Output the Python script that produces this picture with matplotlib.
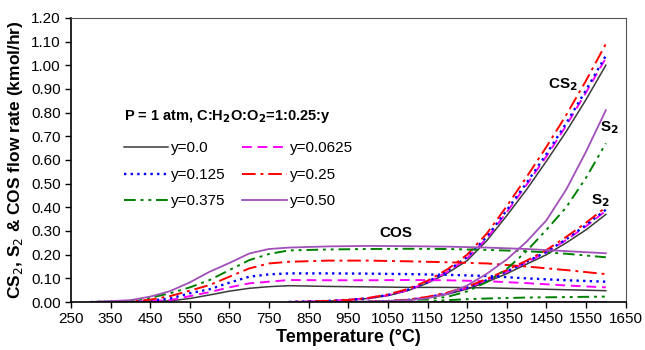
import matplotlib
matplotlib.use('Agg')
import matplotlib.pyplot as plt

plt.rcParams['font.family'] = ['Liberation Sans', 'DejaVu Sans']

# --- data ---
y_labels = ['y=0.0', 'y=0.0625', 'y=0.125', 'y=0.25', 'y=0.375', 'y=0.50']

T_cos = [300, 400, 450, 500, 550, 600, 650, 700, 750, 800, 900, 1000, 1100, 1200, 1300, 1400, 1500, 1600]
cos_y000 = [0, 0.001, 0.003, 0.005, 0.015, 0.030, 0.046, 0.058, 0.065, 0.069, 0.066, 0.064, 0.062, 0.062, 0.060, 0.056, 0.052, 0.048]
cos_y0625 = [0, 0.001, 0.004, 0.008, 0.025, 0.042, 0.062, 0.079, 0.086, 0.093, 0.092, 0.092, 0.093, 0.092, 0.088, 0.080, 0.070, 0.062]
cos_y125 = [0, 0.002, 0.006, 0.015, 0.037, 0.054, 0.082, 0.107, 0.117, 0.121, 0.121, 0.120, 0.118, 0.115, 0.110, 0.100, 0.092, 0.086]
cos_y25 = [0, 0.003, 0.010, 0.025, 0.048, 0.072, 0.107, 0.142, 0.163, 0.170, 0.175, 0.175, 0.172, 0.168, 0.163, 0.150, 0.135, 0.118]
cos_y375 = [0, 0.005, 0.018, 0.037, 0.062, 0.093, 0.135, 0.177, 0.203, 0.218, 0.222, 0.224, 0.225, 0.224, 0.220, 0.215, 0.204, 0.189]
cos_y50 = [0, 0.008, 0.023, 0.046, 0.083, 0.128, 0.165, 0.205, 0.224, 0.230, 0.235, 0.237, 0.236, 0.234, 0.230, 0.224, 0.215, 0.206]

T_hi = [800, 900, 950, 1000, 1050, 1100, 1150, 1200, 1250, 1300, 1350, 1400, 1450, 1500, 1550, 1600]
cs2_y000 = [0, 0.004, 0.008, 0.015, 0.027, 0.048, 0.080, 0.122, 0.175, 0.260, 0.365, 0.475, 0.595, 0.720, 0.855, 1.000]
cs2_y0625 = [0, 0.005, 0.009, 0.016, 0.029, 0.050, 0.083, 0.127, 0.185, 0.270, 0.380, 0.495, 0.615, 0.745, 0.885, 1.030]
cs2_y125 = [0, 0.005, 0.009, 0.016, 0.030, 0.052, 0.085, 0.131, 0.190, 0.276, 0.388, 0.503, 0.625, 0.755, 0.895, 1.040]
cs2_y25 = [0, 0.005, 0.009, 0.017, 0.032, 0.055, 0.090, 0.138, 0.200, 0.290, 0.405, 0.528, 0.655, 0.790, 0.935, 1.090]
cs2_y375 = [0, 0, 0, 0, 0, 0, 0.003, 0.008, 0.012, 0.015, 0.017, 0.019, 0.020, 0.021, 0.022, 0.023]
cs2_y50 = [0, 0, 0, 0, 0, 0, 0, 0, 0, 0, 0, 0, 0, 0, 0, 0]

s2_y000 = [0, 0, 0, 0, 0.003, 0.008, 0.018, 0.033, 0.055, 0.085, 0.120, 0.160, 0.200, 0.250, 0.305, 0.370]
s2_y0625 = [0, 0, 0, 0.001, 0.004, 0.009, 0.020, 0.036, 0.060, 0.092, 0.128, 0.168, 0.210, 0.262, 0.320, 0.385]
s2_y125 = [0, 0, 0, 0.001, 0.004, 0.009, 0.020, 0.037, 0.061, 0.093, 0.130, 0.170, 0.212, 0.265, 0.325, 0.390]
s2_y25 = [0, 0, 0, 0.001, 0.004, 0.010, 0.022, 0.040, 0.065, 0.098, 0.135, 0.175, 0.220, 0.275, 0.335, 0.400]
s2_y375 = [0, 0, 0, 0.002, 0.004, 0.008, 0.013, 0.022, 0.045, 0.085, 0.140, 0.215, 0.305, 0.400, 0.525, 0.670]
s2_y50 = [0, 0, 0, 0.002, 0.004, 0.008, 0.016, 0.035, 0.070, 0.120, 0.180, 0.255, 0.345, 0.475, 0.635, 0.810]

x_ticks = list(range(250, 1651, 100))
y_ticks = [i / 10 for i in range(0, 13)]

# --- styles per y value ---
styles = [
    dict(color='#3a3a3a', linestyle='-', linewidth=1.1),
    dict(color='#ff00ff', linestyle=(0, (5, 3)), linewidth=1.4),
    dict(color='#0000ff', linestyle=(0, (1, 1.8)), linewidth=1.7),
    dict(color='#ff0000', linestyle=(0, (7, 2.5, 1.5, 2.5)), linewidth=1.4),
    dict(color='#008000', linestyle=(0, (6, 2.5, 1.5, 2.5, 1.5, 2.5)), linewidth=1.4),
    dict(color='#a050b8', linestyle='-', linewidth=1.3),
]

cos_all = [cos_y000, cos_y0625, cos_y125, cos_y25, cos_y375, cos_y50]
cs2_all = [cs2_y000, cs2_y0625, cs2_y125, cs2_y25, cs2_y375, cs2_y50]
s2_all = [s2_y000, s2_y0625, s2_y125, s2_y25, s2_y375, s2_y50]

fig = plt.figure(figsize=(6.45, 3.5), dpi=100)
ax = fig.add_axes([0.110, 0.137, 0.860, 0.812])

handles = []
for i in range(6):
    h, = ax.plot(T_cos, cos_all[i], label=y_labels[i], **styles[i])
    ax.plot(T_hi, cs2_all[i], **styles[i])
    ax.plot(T_hi, s2_all[i], **styles[i])
    handles.append(h)

ax.set_xlim(250, 1650)
ax.set_ylim(0, 1.2)
ax.set_xticks(x_ticks)
ax.set_yticks(y_ticks)
ax.set_yticklabels([f'{v:.2f}' for v in y_ticks])
ax.tick_params(axis='both', labelsize=11, direction='out', length=4, width=1, colors='black')
ax.tick_params(top=False, right=False)
for side in ['left', 'bottom']:
    ax.spines[side].set_color('black')
    ax.spines[side].set_linewidth(1.2)
for side in ['top', 'right']:
    ax.spines[side].set_color('#555555')
    ax.spines[side].set_linewidth(0.8)

ax.set_xlabel('Temperature (\u00b0C)', fontsize=13, fontweight='bold', labelpad=2)
ax.set_ylabel('CS$_2$, S$_2$ & COS flow rate (kmol/hr)', fontsize=12.5, fontweight='bold', labelpad=4)

# annotations
ax.text(1455, 0.92, r'CS$_\mathbf{2}$', fontsize=11, fontweight='bold', ha='left', va='center')
ax.text(1585, 0.735, r'S$_\mathbf{2}$', fontsize=11, fontweight='bold', ha='left', va='center')
ax.text(1562, 0.43, r'S$_\mathbf{2}$', fontsize=11, fontweight='bold', ha='left', va='center')
ax.text(1070, 0.29, 'COS', fontsize=11, fontweight='bold', ha='center', va='center')

# legend: column-major order
order = [0, 2, 4, 1, 3, 5]
leg = ax.legend([handles[k] for k in order], [y_labels[k] for k in order],
                ncol=2, frameon=False, fontsize=11, loc='upper left',
                bbox_to_anchor=(0.07, 0.732), handlelength=2.9, handletextpad=0.2,
                columnspacing=1.1, labelspacing=0.82,
                title='P = 1 atm, C:H$_\\mathbf{2}$O:O$_\\mathbf{2}$=1:0.25:y',
                title_fontproperties={'weight': 'bold', 'size': 10.5},
                alignment='left')
leg._legend_box.sep = 12

fig.savefig('out.png', dpi=100)
